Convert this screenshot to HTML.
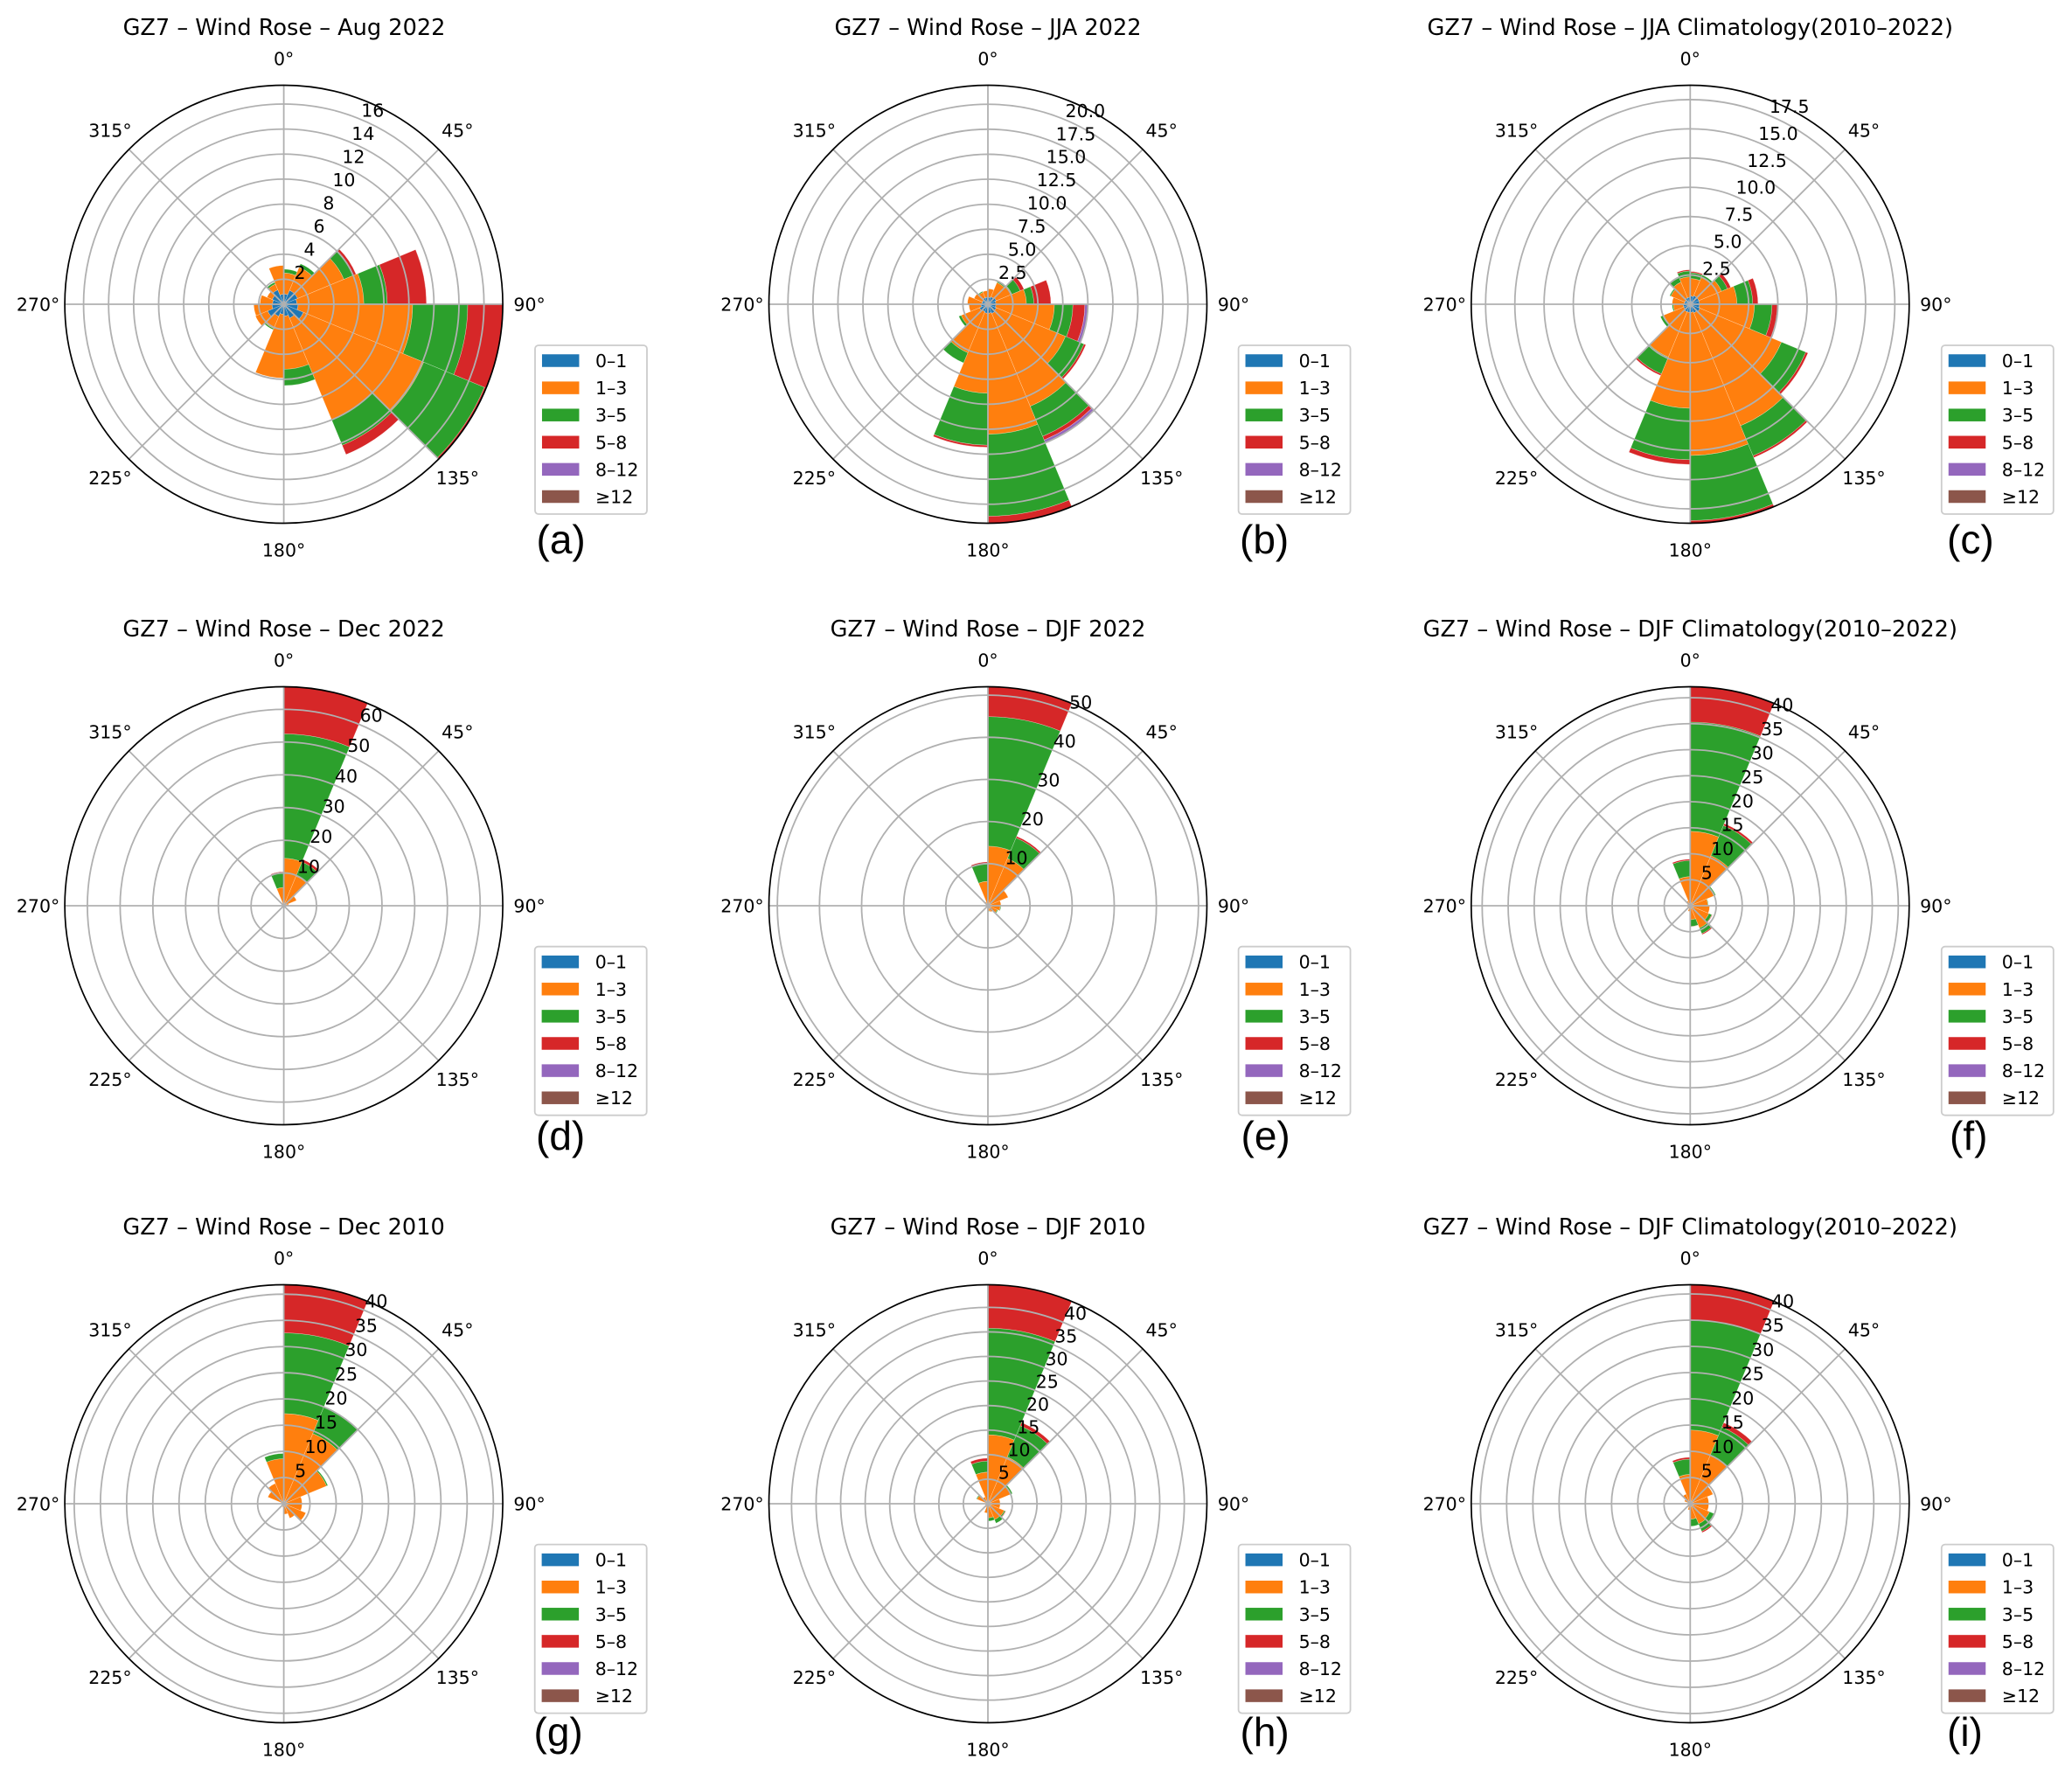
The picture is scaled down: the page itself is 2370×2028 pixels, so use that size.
<!DOCTYPE html>
<html lang="en">
<head>
<meta charset="utf-8">
<title>GZ7 Wind Rose Panels</title>
<style>
html,body{margin:0;padding:0;background:#fff;}
svg{display:block;}
text{font-family:"DejaVu Sans","Liberation Sans",sans-serif;fill:#000;}
.ttl{font-size:25.6px;text-anchor:middle;}
.let{font-family:"Liberation Sans",sans-serif;font-size:46px;}
.lg{font-size:20.5px;}
.frame{fill:#fff;fill-opacity:.8;stroke:#ccc;stroke-width:1.8;}
.c0{fill:#1f77b4}.c1{fill:#ff7f0e}.c2{fill:#2ca02c}.c3{fill:#d62728}.c4{fill:#9467bd}.c5{fill:#8c564b}
.sw{stroke:#fff;stroke-width:.5;}
</style>
</head>
<body>
<svg xmlns="http://www.w3.org/2000/svg" width="2370" height="2028" viewBox="0 0 2370 2028">
<rect width="2370" height="2028" fill="#fff"/>

<g>
<g id="plot-a"></g>
<text class="ttl" x="325" y="40">GZ7 – Wind Rose – Aug 2022</text>
<text class="let" x="613.5" y="633">(a)</text>
<g transform="translate(612,395)">
<rect class="frame" width="128" height="193" rx="4"/>
<g><rect class="c0 sw" x="7.7" y="10" width="43" height="15"/><text class="lg" x="69" y="25">0–1</text></g>
<g><rect class="c1 sw" x="7.7" y="41.1" width="43" height="15"/><text class="lg" x="69" y="56.1">1–3</text></g>
<g><rect class="c2 sw" x="7.7" y="72.2" width="43" height="15"/><text class="lg" x="69" y="87.2">3–5</text></g>
<g><rect class="c3 sw" x="7.7" y="103.3" width="43" height="15"/><text class="lg" x="69" y="118.3">5–8</text></g>
<g><rect class="c4 sw" x="7.7" y="134.4" width="43" height="15"/><text class="lg" x="69" y="149.4">8–12</text></g>
<g><rect class="c5 sw" x="7.7" y="165.5" width="43" height="15"/><text class="lg" x="69" y="180.5">≥12</text></g>
</g>
</g>

<g>
<g id="plot-b"></g>
<text class="ttl" x="1130" y="40">GZ7 – Wind Rose – JJA 2022</text>
<text class="let" x="1418" y="633">(b)</text>
<g transform="translate(1416.6,395)">
<rect class="frame" width="128" height="193" rx="4"/>
<g><rect class="c0 sw" x="7.7" y="10" width="43" height="15"/><text class="lg" x="69" y="25">0–1</text></g>
<g><rect class="c1 sw" x="7.7" y="41.1" width="43" height="15"/><text class="lg" x="69" y="56.1">1–3</text></g>
<g><rect class="c2 sw" x="7.7" y="72.2" width="43" height="15"/><text class="lg" x="69" y="87.2">3–5</text></g>
<g><rect class="c3 sw" x="7.7" y="103.3" width="43" height="15"/><text class="lg" x="69" y="118.3">5–8</text></g>
<g><rect class="c4 sw" x="7.7" y="134.4" width="43" height="15"/><text class="lg" x="69" y="149.4">8–12</text></g>
<g><rect class="c5 sw" x="7.7" y="165.5" width="43" height="15"/><text class="lg" x="69" y="180.5">≥12</text></g>
</g>
</g>

<g>
<g id="plot-c"></g>
<text class="ttl" x="1933.3" y="40">GZ7 – Wind Rose – JJA Climatology(2010–2022)</text>
<text class="let" x="2227" y="633">(c)</text>
<g transform="translate(2220.8,395)">
<rect class="frame" width="128" height="193" rx="4"/>
<g><rect class="c0 sw" x="7.7" y="10" width="43" height="15"/><text class="lg" x="69" y="25">0–1</text></g>
<g><rect class="c1 sw" x="7.7" y="41.1" width="43" height="15"/><text class="lg" x="69" y="56.1">1–3</text></g>
<g><rect class="c2 sw" x="7.7" y="72.2" width="43" height="15"/><text class="lg" x="69" y="87.2">3–5</text></g>
<g><rect class="c3 sw" x="7.7" y="103.3" width="43" height="15"/><text class="lg" x="69" y="118.3">5–8</text></g>
<g><rect class="c4 sw" x="7.7" y="134.4" width="43" height="15"/><text class="lg" x="69" y="149.4">8–12</text></g>
<g><rect class="c5 sw" x="7.7" y="165.5" width="43" height="15"/><text class="lg" x="69" y="180.5">≥12</text></g>
</g>
</g>

<g>
<g id="plot-d"></g>
<text class="ttl" x="324.6" y="728">GZ7 – Wind Rose – Dec 2022</text>
<text class="let" x="613" y="1315">(d)</text>
<g transform="translate(611.7,1082.7)">
<rect class="frame" width="128" height="193" rx="4"/>
<g><rect class="c0 sw" x="7.7" y="10" width="43" height="15"/><text class="lg" x="69" y="25">0–1</text></g>
<g><rect class="c1 sw" x="7.7" y="41.1" width="43" height="15"/><text class="lg" x="69" y="56.1">1–3</text></g>
<g><rect class="c2 sw" x="7.7" y="72.2" width="43" height="15"/><text class="lg" x="69" y="87.2">3–5</text></g>
<g><rect class="c3 sw" x="7.7" y="103.3" width="43" height="15"/><text class="lg" x="69" y="118.3">5–8</text></g>
<g><rect class="c4 sw" x="7.7" y="134.4" width="43" height="15"/><text class="lg" x="69" y="149.4">8–12</text></g>
<g><rect class="c5 sw" x="7.7" y="165.5" width="43" height="15"/><text class="lg" x="69" y="180.5">≥12</text></g>
</g>
</g>

<g>
<g id="plot-e"></g>
<text class="ttl" x="1130" y="728">GZ7 – Wind Rose – DJF 2022</text>
<text class="let" x="1419.5" y="1315">(e)</text>
<g transform="translate(1416.6,1082.7)">
<rect class="frame" width="128" height="193" rx="4"/>
<g><rect class="c0 sw" x="7.7" y="10" width="43" height="15"/><text class="lg" x="69" y="25">0–1</text></g>
<g><rect class="c1 sw" x="7.7" y="41.1" width="43" height="15"/><text class="lg" x="69" y="56.1">1–3</text></g>
<g><rect class="c2 sw" x="7.7" y="72.2" width="43" height="15"/><text class="lg" x="69" y="87.2">3–5</text></g>
<g><rect class="c3 sw" x="7.7" y="103.3" width="43" height="15"/><text class="lg" x="69" y="118.3">5–8</text></g>
<g><rect class="c4 sw" x="7.7" y="134.4" width="43" height="15"/><text class="lg" x="69" y="149.4">8–12</text></g>
<g><rect class="c5 sw" x="7.7" y="165.5" width="43" height="15"/><text class="lg" x="69" y="180.5">≥12</text></g>
</g>
</g>

<g>
<g id="plot-f"></g>
<text class="ttl" x="1933.3" y="728">GZ7 – Wind Rose – DJF Climatology(2010–2022)</text>
<text class="let" x="2230" y="1315">(f)</text>
<g transform="translate(2220.8,1082.7)">
<rect class="frame" width="128" height="193" rx="4"/>
<g><rect class="c0 sw" x="7.7" y="10" width="43" height="15"/><text class="lg" x="69" y="25">0–1</text></g>
<g><rect class="c1 sw" x="7.7" y="41.1" width="43" height="15"/><text class="lg" x="69" y="56.1">1–3</text></g>
<g><rect class="c2 sw" x="7.7" y="72.2" width="43" height="15"/><text class="lg" x="69" y="87.2">3–5</text></g>
<g><rect class="c3 sw" x="7.7" y="103.3" width="43" height="15"/><text class="lg" x="69" y="118.3">5–8</text></g>
<g><rect class="c4 sw" x="7.7" y="134.4" width="43" height="15"/><text class="lg" x="69" y="149.4">8–12</text></g>
<g><rect class="c5 sw" x="7.7" y="165.5" width="43" height="15"/><text class="lg" x="69" y="180.5">≥12</text></g>
</g>
</g>

<g>
<g id="plot-g"></g>
<text class="ttl" x="324.6" y="1412">GZ7 – Wind Rose – Dec 2010</text>
<text class="let" x="610.5" y="1997">(g)</text>
<g transform="translate(611.7,1766.6)">
<rect class="frame" width="128" height="193" rx="4"/>
<g><rect class="c0 sw" x="7.7" y="10" width="43" height="15"/><text class="lg" x="69" y="25">0–1</text></g>
<g><rect class="c1 sw" x="7.7" y="41.1" width="43" height="15"/><text class="lg" x="69" y="56.1">1–3</text></g>
<g><rect class="c2 sw" x="7.7" y="72.2" width="43" height="15"/><text class="lg" x="69" y="87.2">3–5</text></g>
<g><rect class="c3 sw" x="7.7" y="103.3" width="43" height="15"/><text class="lg" x="69" y="118.3">5–8</text></g>
<g><rect class="c4 sw" x="7.7" y="134.4" width="43" height="15"/><text class="lg" x="69" y="149.4">8–12</text></g>
<g><rect class="c5 sw" x="7.7" y="165.5" width="43" height="15"/><text class="lg" x="69" y="180.5">≥12</text></g>
</g>
</g>

<g>
<g id="plot-h"></g>
<text class="ttl" x="1130" y="1412">GZ7 – Wind Rose – DJF 2010</text>
<text class="let" x="1418.5" y="1997">(h)</text>
<g transform="translate(1416.6,1766.6)">
<rect class="frame" width="128" height="193" rx="4"/>
<g><rect class="c0 sw" x="7.7" y="10" width="43" height="15"/><text class="lg" x="69" y="25">0–1</text></g>
<g><rect class="c1 sw" x="7.7" y="41.1" width="43" height="15"/><text class="lg" x="69" y="56.1">1–3</text></g>
<g><rect class="c2 sw" x="7.7" y="72.2" width="43" height="15"/><text class="lg" x="69" y="87.2">3–5</text></g>
<g><rect class="c3 sw" x="7.7" y="103.3" width="43" height="15"/><text class="lg" x="69" y="118.3">5–8</text></g>
<g><rect class="c4 sw" x="7.7" y="134.4" width="43" height="15"/><text class="lg" x="69" y="149.4">8–12</text></g>
<g><rect class="c5 sw" x="7.7" y="165.5" width="43" height="15"/><text class="lg" x="69" y="180.5">≥12</text></g>
</g>
</g>

<g>
<g id="plot-i"></g>
<text class="ttl" x="1933.3" y="1412">GZ7 – Wind Rose – DJF Climatology(2010–2022)</text>
<text class="let" x="2227" y="1997">(i)</text>
<g transform="translate(2220.8,1766.6)">
<rect class="frame" width="128" height="193" rx="4"/>
<g><rect class="c0 sw" x="7.7" y="10" width="43" height="15"/><text class="lg" x="69" y="25">0–1</text></g>
<g><rect class="c1 sw" x="7.7" y="41.1" width="43" height="15"/><text class="lg" x="69" y="56.1">1–3</text></g>
<g><rect class="c2 sw" x="7.7" y="72.2" width="43" height="15"/><text class="lg" x="69" y="87.2">3–5</text></g>
<g><rect class="c3 sw" x="7.7" y="103.3" width="43" height="15"/><text class="lg" x="69" y="118.3">5–8</text></g>
<g><rect class="c4 sw" x="7.7" y="134.4" width="43" height="15"/><text class="lg" x="69" y="149.4">8–12</text></g>
<g><rect class="c5 sw" x="7.7" y="165.5" width="43" height="15"/><text class="lg" x="69" y="180.5">≥12</text></g>
</g>
</g>
</svg>

<script>
// Shared categories
const speedClasses = ['0-1','1-3','3-5','5-8','8-12','12-plus'];
const sectorWidthDeg = 22.5;
const angularTicks = [0,45,90,135,180,225,270,315];
const angularTickLabels = ['0°','45°','90°','135°','180°','225°','270°','315°'];

// Radial axis limit and tick labels of each panel
const rMaxA = 17.5, rMaxB = 21.9, rMaxC = 18.73, rMaxD = 66.9, rMaxE = 52, rMaxF = 42.1, rMaxG = 41.8, rMaxH = 44.6, rMaxI = 41.75;
const rTicksA = ['2','4','6','8','10','12','14','16'];
const rTicksB = ['2.5','5.0','7.5','10.0','12.5','15.0','17.5','20.0'];
const rTicksC = ['2.5','5.0','7.5','10.0','12.5','15.0','17.5'];
const rTicksD = ['10','20','30','40','50','60'];
const rTicksE = ['10','20','30','40','50'];
const rTicksF = ['5','10','15','20','25','30','35','40'];
const rTicksG = ['5','10','15','20','25','30','35','40'];
const rTicksH = ['5','10','15','20','25','30','35','40'];
const rTicksI = ['5','10','15','20','25','30','35','40'];

// Frequency per sector (16 sectors clockwise from north), one array per speed class
const a0 = [.82,1.2,1.2,1.05,1.15,1.7,1.2,.95,.8,1.05,1.4,.95,.9,1,1.25,.8];
const a1 = [1.68,2,4,5.35,9.15,10.4,8.8,4.25,5.1,1.05,1.05,1.45,1,.45,.5,2.3];
const a2 = [.3,.3,.85,1.87,4.4,5.25,2.2,1.3,0,.1,0,0,0,0,.15,0];
const a3 = [0,0,.2,3.13,2.8,.15,.8,0,0,0,0,0,0,0,0,0];
const a4 = [0,0,0,0,0,0,0,0,0,0,0,0,0,0,0,0];
const a5 = [0,0,0,0,0,0,0,0,0,0,0,0,0,0,0,0];

const b0 = [.7,.8,.9,.8,.8,.9,1,.9,.9,.8,.9,.7,.6,.6,.7,.7];
const b1 = [.85,1.55,1.7,3.05,5.85,7.5,10.05,12.1,8,4.45,2,1.2,1.45,.9,.6,.65];
const b2 = [0,.1,.9,.75,1.85,2,3.25,8.2,5.2,1.1,.25,0,0,0,.1,0];
const b3 = [0,0,.4,1.7,1.2,.2,.4,.7,.2,0,0,0,0,0,0,0];
const b4 = [0,0,0,0,.3,0,.25,0,0,0,0,0,0,0,0,0];
const b5 = [0,0,0,0,0,0,0,0,0,0,0,0,0,0,0,0];

const c0 = [.7,.8,.8,.8,.8,.9,.8,.7,.7,.7,.6,.6,.5,.5,.6,.6];
const c1 = [1.5,1.7,2.1,3.2,4.7,7.55,10.45,12.24,8.2,4.2,1.85,.85,1.05,1.3,1.45,1.75];
const c2 = [.5,.2,.55,1.35,1.5,2.25,2.78,5.56,4.4,1.55,.3,.1,0,.1,.4,.5];
const c3 = [.1,0,.3,.45,.45,.2,.17,.23,.4,.15,0,0,0,0,0,.1];
const c4 = [0,0,0,0,0,0,0,0,0,0,0,0,0,0,0,0];
const c5 = [0,0,0,0,0,0,0,0,0,0,0,0,0,0,0,0];

const d0 = [.2,.2,.2,.2,.2,.2,.2,.2,.2,.2,.2,.2,.2,.2,.2,.2];
const d1 = [14.3,9.6,4,1.3,.4,.2,.1,.1,.1,.1,.1,.1,.2,.3,.8,5.4];
const d2 = [38,4.7,0,0,0,0,0,0,0,0,0,0,0,0,0,4.6];
const d3 = [14.4,.8,0,0,0,0,0,0,0,0,0,0,0,0,0,.2];
const d4 = [0,0,0,0,0,0,0,0,0,0,0,0,0,0,0,0];
const d5 = [0,0,0,0,0,0,0,0,0,0,0,0,0,0,0,0];

const e0 = [.2,.2,.2,.2,.2,.2,.2,.2,.2,.2,.2,.2,.2,.2,.2,.2];
const e1 = [13.95,11.95,5,2.9,2.75,2.2,1.4,1.1,.3,.2,.2,.2,.2,.3,.8,5.6];
const e2 = [30.75,5.3,0,0,.15,.2,0,.1,0,0,0,0,0,0,0,4.3];
const e3 = [7.1,.4,0,0,0,0,0,0,0,0,0,0,0,0,0,.3];
const e4 = [0,0,0,0,0,0,0,0,0,0,0,0,0,0,0,0];
const e5 = [0,0,0,0,0,0,0,0,0,0,0,0,0,0,0,0];

const f0 = [.2,.2,.2,.2,.2,.2,.2,.2,.2,.2,.2,.2,.2,.2,.2,.2];
const f1 = [14.1,10.2,4.8,3.2,3.55,3.7,4.45,2.5,.9,.4,.4,.4,.3,.4,.8,5.4];
const f2 = [21,6.3,.3,.1,0,.6,1.15,1.3,0,0,0,0,0,0,0,3.1];
const f3 = [6.8,.4,0,0,0,.1,.2,.05,0,0,0,0,0,0,0,.25];
const f4 = [0,0,0,0,0,0,0,0,0,0,0,0,0,0,0,0];
const f5 = [0,0,0,0,0,0,0,0,0,0,0,0,0,0,0,0];

const g0 = [.2,.2,.2,.2,.2,.2,.2,.2,.2,.2,.2,.2,.2,.2,.2,.2];
const g1 = [17,14.3,8.65,3.3,3.3,4.35,2.8,1.8,.5,.1,.1,.1,.3,3.1,4,8.4];
const g2 = [15.4,5.4,.25,0,0,0,0,0,0,0,0,0,0,0,0,1];
const g3 = [9.2,0,0,0,0,0,0,0,0,0,0,0,0,0,0,0];
const g4 = [0,0,0,0,0,0,0,0,0,0,0,0,0,0,0,0];
const g5 = [0,0,0,0,0,0,0,0,0,0,0,0,0,0,0,0];

const h0 = [.2,.2,.2,.2,.2,.2,.2,.2,.2,.2,.2,.2,.2,.2,.2,.2];
const h1 = [13.85,10.1,4.9,2.3,2.3,3.4,3.3,2.7,1.7,.6,.4,.3,.3,2.2,1.3,6.25];
const h2 = [21.7,6.9,.3,0,0,.25,.8,.65,0,0,0,0,0,.15,0,2.25];
const h3 = [8.85,.7,0,0,0,.1,0,0,0,0,0,0,0,0,0,.57];
const h4 = [0,0,0,0,0,0,0,0,0,0,0,0,0,0,0,0];
const h5 = [0,0,0,0,0,0,0,0,0,0,0,0,0,0,0,0];

const i0 = [.2,.2,.2,.2,.2,.2,.2,.2,.2,.2,.2,.2,.2,.2,.2,.2];
const i1 = [13.85,9.85,4.5,3.35,3.35,3.8,3.95,2.75,1,.5,.3,.2,.3,1,1.8,5.4];
const i2 = [20.95,5.75,0,0,0,.9,1.55,1.35,0,0,0,0,0,0,0,2.9];
const i3 = [6.75,.9,0,0,0,.1,.25,0,0,0,0,0,0,0,0,.35];
const i4 = [0,0,0,0,0,0,0,0,0,0,0,0,0,0,0,0];
const i5 = [0,0,0,0,0,0,0,0,0,0,0,0,0,0,0,0];

// Layout (not data)
const NS = 'http://www.w3.org/2000/svg';
const axisRadius = 250.5;
const tickLabelRadius = 281;
const classColors = ['#1f77b4','#ff7f0e','#2ca02c','#d62728','#9467bd','#8c564b'];
const panelDefs = [
  {id:'a',cx:324.6,cy:348,rMax:rMaxA,ticks:rTicksA,series:[a0,a1,a2,a3,a4,a5]},
  {id:'b',cx:1130,cy:348,rMax:rMaxB,ticks:rTicksB,series:[b0,b1,b2,b3,b4,b5]},
  {id:'c',cx:1933.3,cy:348,rMax:rMaxC,ticks:rTicksC,series:[c0,c1,c2,c3,c4,c5]},
  {id:'d',cx:324.6,cy:1036,rMax:rMaxD,ticks:rTicksD,series:[d0,d1,d2,d3,d4,d5]},
  {id:'e',cx:1130,cy:1036,rMax:rMaxE,ticks:rTicksE,series:[e0,e1,e2,e3,e4,e5]},
  {id:'f',cx:1933.3,cy:1036,rMax:rMaxF,ticks:rTicksF,series:[f0,f1,f2,f3,f4,f5]},
  {id:'g',cx:324.6,cy:1720,rMax:rMaxG,ticks:rTicksG,series:[g0,g1,g2,g3,g4,g5]},
  {id:'h',cx:1130,cy:1720,rMax:rMaxH,ticks:rTicksH,series:[h0,h1,h2,h3,h4,h5]},
  {id:'i',cx:1933.3,cy:1720,rMax:rMaxI,ticks:rTicksI,series:[i0,i1,i2,i3,i4,i5]}
];

function polar(p, deg, rPx) {
  const t = deg * Math.PI / 180;
  return [p.cx + rPx * Math.sin(t), p.cy - rPx * Math.cos(t)];
}
function sectorPath(p, d0Deg, d1Deg, r0, r1) {
  const A = polar(p, d0Deg, r1), B = polar(p, d1Deg, r1);
  const C = polar(p, d1Deg, r0), D = polar(p, d0Deg, r0);
  return 'M' + A[0].toFixed(2) + ' ' + A[1].toFixed(2) +
    'A' + r1.toFixed(2) + ' ' + r1.toFixed(2) + ' 0 0 1 ' + B[0].toFixed(2) + ' ' + B[1].toFixed(2) +
    'L' + C[0].toFixed(2) + ' ' + C[1].toFixed(2) +
    'A' + r0.toFixed(2) + ' ' + r0.toFixed(2) + ' 0 0 0 ' + D[0].toFixed(2) + ' ' + D[1].toFixed(2) + 'Z';
}

function drawPanel(p) {
  const root = document.getElementById('plot-' + p.id);
  const scale = axisRadius / p.rMax;

  // stacked bars
  const sectorCount = p.series[0].length;
  for (let k = 0; k < sectorCount; k++) {
    let base = 0;
    for (let c = 0; c < speedClasses.length; c++) {
      const v = p.series[c][k];
      if (v > 0) {
        const bar = document.createElementNS(NS, 'path');
        bar.setAttribute('d', sectorPath(p, k * sectorWidthDeg, (k + 1) * sectorWidthDeg, base * scale, (base + v) * scale));
        bar.setAttribute('fill', classColors[c]);
        bar.setAttribute('stroke', '#fff');
        bar.setAttribute('stroke-width', '0.25');
        
        
        root.appendChild(bar);
      }
      base += v;
    }
  }

  // radial grid rings
  p.ticks.forEach(function (label) {
    const ring = document.createElementNS(NS, 'circle');
    ring.setAttribute('cx', p.cx);
    ring.setAttribute('cy', p.cy);
    ring.setAttribute('r', (parseFloat(label) * scale).toFixed(2));
    ring.setAttribute('fill', 'none');
    ring.setAttribute('stroke', '#b0b0b0');
    ring.setAttribute('stroke-width', '1.8');
    
    
    root.appendChild(ring);
  });

  // angular grid lines and labels
  angularTicks.forEach(function (deg, idx) {
    const end = polar(p, deg, axisRadius);
    const spoke = document.createElementNS(NS, 'line');
    spoke.setAttribute('x1', p.cx);
    spoke.setAttribute('y1', p.cy);
    spoke.setAttribute('x2', end[0].toFixed(2));
    spoke.setAttribute('y2', end[1].toFixed(2));
    spoke.setAttribute('stroke', '#b0b0b0');
    spoke.setAttribute('stroke-width', '1.8');
    
    
    root.appendChild(spoke);

    const pos = polar(p, deg, tickLabelRadius);
    const lab = document.createElementNS(NS, 'text');
    lab.setAttribute('x', pos[0].toFixed(2));
    lab.setAttribute('y', (pos[1] + 7.4).toFixed(2));
    lab.setAttribute('text-anchor', 'middle');
    lab.setAttribute('font-size', '20.5');
    
    
    lab.textContent = angularTickLabels[idx];
    root.appendChild(lab);
  });

  // outer spine
  const spine = document.createElementNS(NS, 'circle');
  spine.setAttribute('cx', p.cx);
  spine.setAttribute('cy', p.cy);
  spine.setAttribute('r', axisRadius);
  spine.setAttribute('fill', 'none');
  spine.setAttribute('stroke', '#000');
  spine.setAttribute('stroke-width', '1.7');
  
  
  root.appendChild(spine);

  // radial tick labels along the 22.5 degree ray
  p.ticks.forEach(function (label) {
    const pos = polar(p, 22.5, parseFloat(label) * scale);
    const t = document.createElementNS(NS, 'text');
    t.setAttribute('x', (pos[0] + 1).toFixed(2));
    t.setAttribute('y', (pos[1] - 2.8).toFixed(2));
    t.setAttribute('font-size', '20.5');
    
    
    t.textContent = label;
    root.appendChild(t);
  });
}

panelDefs.forEach(drawPanel);
</script>
</body>
</html>
